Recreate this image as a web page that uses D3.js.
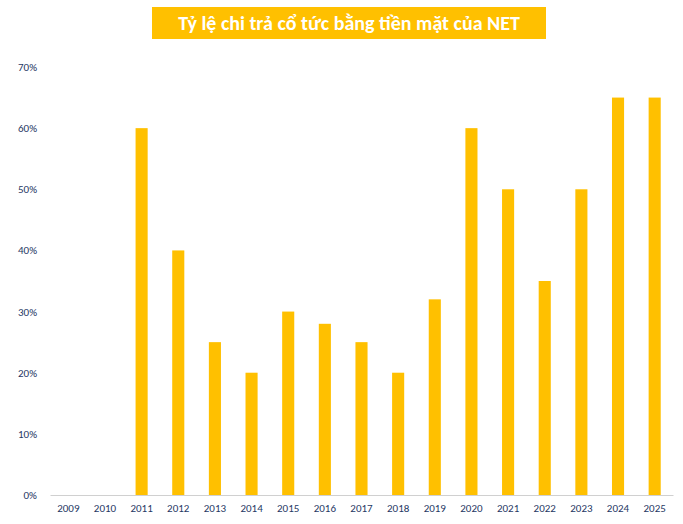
<!DOCTYPE html>
<html><head><meta charset="utf-8">
<script src="https://cdn.jsdelivr.net/npm/d3@7"></script>
<style>body{margin:0;background:#fff}</style></head>
<body><svg id="c" width="683" height="524"></svg>
<script>
const years = ["2009","2010","2011","2012","2013","2014","2015","2016","2017","2018","2019","2020","2021","2022","2023","2024","2025"];
const ratios = [0,0,60,40,25,20,30,28,25,20,32,60,50,35,50,65,65];
const yTicks = [0,10,20,30,40,50,60,70];
const title = "Tỷ lệ chi trả cổ tức bằng tiền mặt của NET";

const svg = d3.select("#c");
const x = d3.scaleBand().domain(years).range([50,673]).padding(0);
const y = d3.scaleLinear().domain([0,70]).range([495,67]);
const font = "Calibri, Carlito, 'Liberation Sans', Arial, sans-serif";

// title
const tg = svg.append("g");
tg.append("rect").attr("x",152).attr("y",7).attr("width",394).attr("height",32).attr("fill","#FFC000");
tg.append("text").attr("x",349).attr("y",30).attr("text-anchor","middle")
  .attr("fill","#fff").attr("font-weight","bold").attr("font-size",20)
  .attr("font-family",font).text(title);

// bars
const bw = x.bandwidth()*0.33;
svg.selectAll("rect.bar").data(years.map((d,i)=>({y:d,v:ratios[i]})).filter(d=>d.v>0))
  .enter().append("rect").attr("class","bar")
  .attr("x",d=>x(d.y)+x.bandwidth()/2-bw/2).attr("width",bw)
  .attr("y",d=>y(d.v)).attr("height",d=>y(0)-y(d.v)).attr("fill","#FFC000");

// y axis labels
const ya = svg.append("g").attr("transform","translate(40,0)")
  .call(d3.axisLeft(y).tickValues(yTicks).tickFormat(d=>d+"%").tickSize(0));
ya.select(".domain").remove();
ya.selectAll("text").attr("font-size",11).attr("fill","#1F3864").attr("font-family",font);

// x axis
const xa = svg.append("g").attr("transform","translate(0,495)")
  .call(d3.axisBottom(x).tickSize(0).tickPadding(9));
xa.select(".domain").attr("stroke","#d0d0d0");
xa.selectAll("text").attr("font-size",11).attr("fill","#1F3864").attr("font-family",font);
</script></body></html>
